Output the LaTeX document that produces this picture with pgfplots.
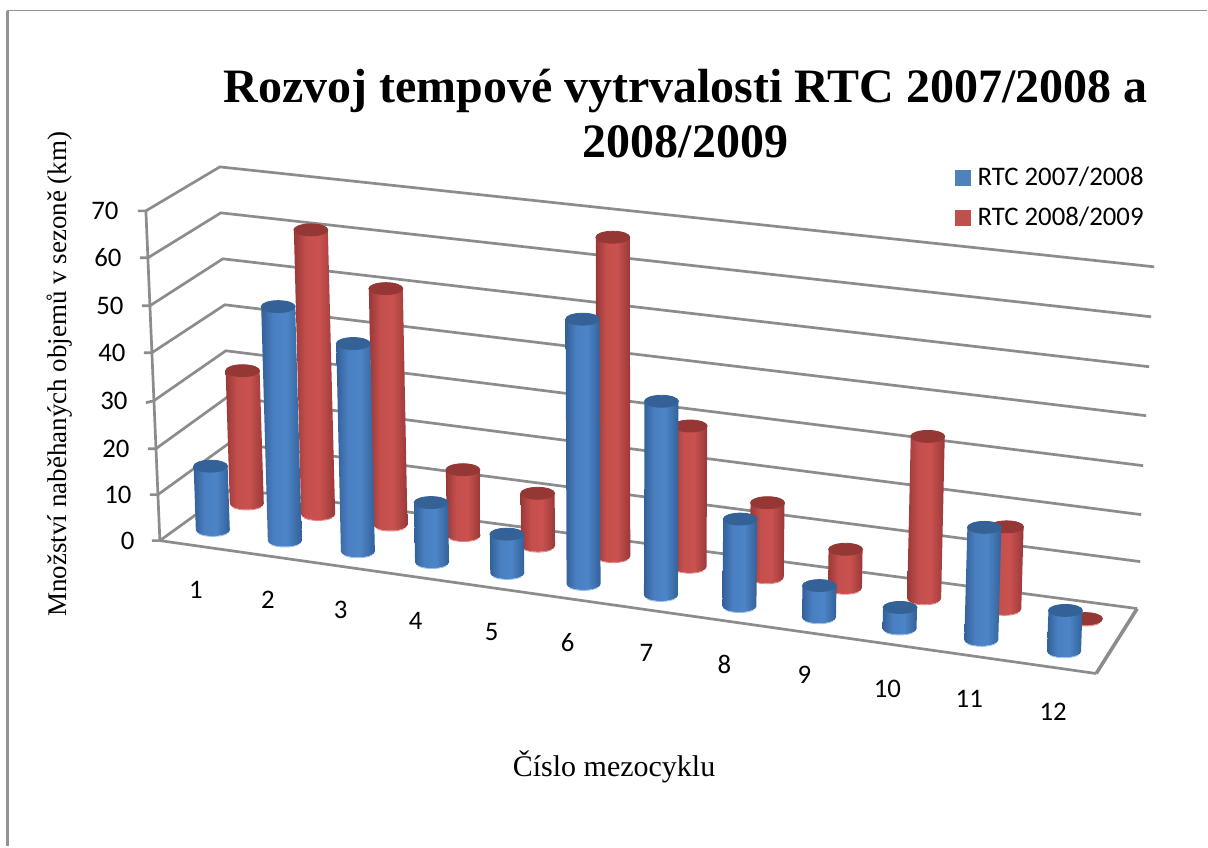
\documentclass[border=0pt]{standalone}
\usepackage{fontspec}
\setmainfont{Liberation Serif}
\newfontfamily\calfont{Carlito}
\usepackage{pgfplots}
\usepackage{pgfplotstable}
\pgfplotsset{compat=1.18}

% km per mesocycle
\pgfplotstableread{
cat v
1 12.8
2 46.4
3 40.8
4 11.6
5 7.5
6 50.5
7 36.6
8 16.3
9 5.9
10 3.9
11 20.5
12 7.4
}\blueseason
\pgfplotstableread{
cat v
1 28.3
2 60.0
3 49.4
4 13.6
5 10.8
6 65.1
7 28.5
8 15.0
9 7.7
10 32.0
11 16.1
12 0.2
}\redseason

\definecolor{gridgray}{RGB}{140,140,140}
\definecolor{blueleg}{RGB}{79,129,189}
\definecolor{redleg}{RGB}{192,80,77}
\definecolor{bluecap}{RGB}{52,98,150}
\definecolor{redcap}{RGB}{148,55,53}
\definecolor{bluerim}{RGB}{150,190,235}
\definecolor{redrim}{RGB}{235,130,130}

\pgfdeclarehorizontalshading{bluecyl}{100bp}{
  rgb(0bp)=(0.20,0.38,0.60); rgb(25bp)=(0.20,0.38,0.60); rgb(40bp)=(0.29,0.50,0.76);
  rgb(56bp)=(0.30,0.52,0.78); rgb(75bp)=(0.20,0.38,0.60); rgb(100bp)=(0.20,0.38,0.60)}
\pgfdeclarehorizontalshading{redcyl}{100bp}{
  rgb(0bp)=(0.60,0.22,0.22); rgb(25bp)=(0.60,0.22,0.22); rgb(40bp)=(0.77,0.31,0.30);
  rgb(56bp)=(0.79,0.32,0.31); rgb(75bp)=(0.60,0.22,0.22); rgb(100bp)=(0.60,0.22,0.22)}
\pgfdeclareplotmark{nomark}{}

% one cylinder at the current point: shading, cap colour, rim colour
\newcommand\cyl[3]{%
  \pgfmathsetmacro\hp{\barh/2}%
  \pgfmathsetmacro\tp{\tilt/2}%
  \shade[draw=none,shading=#1] (-8.5pt,0pt) arc[start angle=180,end angle=360,x radius=8.5pt,y radius=3pt]
    -- (8.5pt+\tp pt,\hp pt) -- (-8.5pt+\tp pt,\hp pt) -- cycle;
  \draw[#3,line width=0.4pt] (-7pt,-1.9pt) arc[start angle=215,end angle=325,x radius=8.5pt,y radius=3pt];
  \fill[#2] (\tp pt,\hp pt) ellipse[x radius=8.5pt,y radius=3pt];
}

\pgfplotsset{wall/.style={forget plot,no marks,color=gridgray,line width=1.35pt}}

\begin{document}
\begin{tikzpicture}
\begin{axis}[
  scale only axis, width=604pt, height=423.5pt,
  xmin=0, xmax=1208, ymin=0, ymax=847, y dir=reverse,
  clip=false, axis line style={draw=none}, xtick=\empty, ytick=\empty,
  title={Rozvoj tempové vytrvalosti RTC 2007/2008 a\\2008/2009},
  title style={at={(0.5679,0.852)},anchor=center,align=center,
    font=\fontsize{24}{27.5}\selectfont\bfseries},
  xlabel={Číslo mezocyklu},
  xlabel style={at={(0.5087,0.0945)},anchor=center,font=\fontsize{15}{18}\selectfont},
  ylabel={Množství naběhaných objemů v sezoně (km)},
  ylabel style={at={(0.0497,0.558)},anchor=center,font=\fontsize{13.5}{16}\selectfont},
  legend style={at={(0.786,0.813)},anchor=north west,draw=none,fill=none,
    font=\fontsize{13.4}{16}\selectfont\calfont,row sep=5.5pt},
  legend cell align=left, reverse legend,
]
% frame of the chart area
\addplot[forget plot,no marks,color=gray!85,line width=1.4pt] coordinates {(7.5,847) (7.5,10.5)};
\addplot[forget plot,no marks,color=gray!85,line width=0.9pt] coordinates {(7,10.5) (1208,10.5)};

% walls: front left, back left, back right
\addplot[wall] coordinates {(138,211) (146,211) (220,167) (1155,267)};
\addplot[wall] coordinates {(140,258) (148,258) (221,213) (1152,317)};
\addplot[wall] coordinates {(142,306) (150,306) (223,259) (1150,367)};
\addplot[wall] coordinates {(144,353) (152,353) (225,305) (1147,416)};
\addplot[wall] coordinates {(146,403) (154,401) (226,351) (1144,466)};
\addplot[wall] coordinates {(148,449) (156,449) (228,397) (1142,515)};
\addplot[wall] coordinates {(150,495) (158,495) (230,443) (1141,562)};
\addplot[wall] coordinates {(152,541) (160,541) (232,489) (1138,609)};
\addplot[wall] coordinates {(146,211) (160,541)};
\addplot[wall] coordinates {(160,541) (1097,674)};
\addplot[wall,line width=1.8pt] coordinates {(1097,674) (1138,609)};

% back row
\addplot[scatter, only marks, mark=nomark,
  visualization depends on={\thisrow{v}*(4.66+0.041*\thisrow{cat}) \as \barh},
  visualization depends on={\thisrow{v}*(4.66+0.041*\thisrow{cat})*(247+71*(\thisrow{cat}-1)-620)*0.000085 \as \tilt},
  scatter/@pre marker code/.code={\cyl{redcyl}{redcap}{redrim}},
  scatter/@post marker code/.code={},
  legend image code/.code={\path[draw=none] (0pt,0pt) -- (9pt,0pt);\fill[redleg] (0pt,-3.75pt) rectangle (7.5pt,3.75pt);},
] table[
  x expr={247+70.9*(\thisrow{cat}-1)+0.49*(\thisrow{cat}-1)*(\thisrow{cat}-1)},
  y expr={504+10.55*(\thisrow{cat}-1)},
] {\redseason};
\addlegendentry{RTC 2008/2009}

% front row
\addplot[scatter, only marks, mark=nomark,
  visualization depends on={\thisrow{v}*(4.95+0.05*\thisrow{cat}) \as \barh},
  visualization depends on={\thisrow{v}*(4.95+0.05*\thisrow{cat})*(213+73*(\thisrow{cat}-1)-620)*0.000085 \as \tilt},
  scatter/@pre marker code/.code={\cyl{bluecyl}{bluecap}{bluerim}},
  scatter/@post marker code/.code={},
  legend image code/.code={\path[draw=none] (0pt,0pt) -- (9pt,0pt);\fill[blueleg] (0pt,-3.75pt) rectangle (7.5pt,3.75pt);},
] table[
  x expr={213+71.5*(\thisrow{cat}-1)+0.54*(\thisrow{cat}-1)*(\thisrow{cat}-1)},
  y expr={530.5+10.6*(\thisrow{cat}-1)+0.04*(\thisrow{cat}-1)*(\thisrow{cat}-1)},
] {\blueseason};
\addlegendentry{RTC 2007/2008}

% tick labels
\foreach \x/\y/\t in {119/211/70,122/258/60,124/306/50,126/353/40,128/401/30,130/449/20,132/495/10,135/541/0}{
  \edef\temp{\noexpand\node[anchor=east,inner sep=0pt,font=\noexpand\fontsize{13.4}{16}\noexpand\selectfont\noexpand\calfont] at (axis cs:\x,\y) {\t};}\temp
}
\foreach \x/\y/\t in {196/590/1,268/600/2,341/610/3,416/621/4,492/632/5,568/643/6,647/653/7,725/665/8,805/675/9,888/689/10,970/699/11,1054/712/12}{
  \edef\temp{\noexpand\node[font=\noexpand\fontsize{13.4}{16}\noexpand\selectfont\noexpand\calfont] at (axis cs:\x,\y) {\t};}\temp
}
\end{axis}
\end{tikzpicture}
\end{document}
